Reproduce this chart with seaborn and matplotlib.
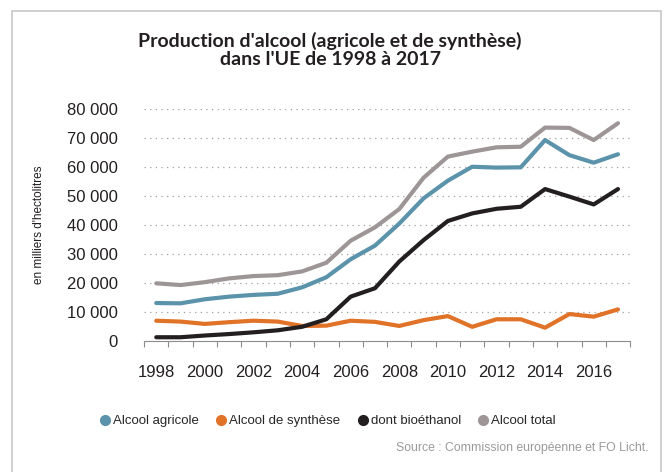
import pandas as pd
import matplotlib.pyplot as plt
import seaborn as sns
from matplotlib.lines import Line2D
from matplotlib.patches import Rectangle
from matplotlib.ticker import FuncFormatter

# Data (milliers d'hectolitres)
years = list(range(1998, 2018))
alcool_agricole = [13100, 13000, 14400, 15300, 15900, 16300, 18500, 22000, 28200, 32900,
                   40500, 49200, 55300, 60100, 59800, 59900, 69300, 64100, 61500, 64400]
alcool_synthese = [7000, 6700, 5900, 6500, 7000, 6700, 5200, 5300, 7000, 6600,
                   5200, 7200, 8600, 4900, 7500, 7500, 4600, 9300, 8400, 10900]
bioethanol = [1300, 1300, 1900, 2400, 3000, 3700, 4900, 7500, 15300, 18200,
              27400, 34800, 41400, 44000, 45600, 46300, 52400, 49800, 47100, 52400]
alcool_total = [19900, 19300, 20300, 21600, 22400, 22700, 24000, 27000, 34600, 39200,
                45500, 56300, 63600, 65300, 66800, 67000, 73600, 73500, 69300, 75100]

series_names = ["Alcool agricole", "Alcool de synthèse", "dont bioéthanol", "Alcool total"]
colors = ["#5b93ab", "#e07328", "#231f20", "#9e9696"]

df = pd.concat([
    pd.DataFrame({"year": years, "value": vals, "serie": name})
    for name, vals in zip(series_names, [alcool_agricole, alcool_synthese, bioethanol, alcool_total])
])

sns.set_style("white")
plt.rcParams['font.family'] = ['Liberation Sans', 'DejaVu Sans']

fig = plt.figure(figsize=(6.64, 4.72), dpi=100)
ax = fig.add_axes([0.217, 0.2775, 0.732, 0.4915])

sns.lineplot(data=df, x="year", y="value", hue="serie", hue_order=series_names,
             palette=colors, linewidth=3, legend=False, ax=ax,
             solid_capstyle="round", solid_joinstyle="round", clip_on=False)

ax.set_xlim(1997.5, 2017.5)
ax.set_ylim(0, 80000)

# y axis
ax.set_yticks(range(0, 80001, 10000))
ax.yaxis.set_major_formatter(FuncFormatter(lambda v, p: f"{int(v):,}".replace(",", " ")))
ax.tick_params(axis="y", length=0, labelsize=12, pad=19, labelcolor="#231f20")
for y in range(10000, 80001, 10000):
    ax.axhline(y, color="#a0a0a0", linewidth=0.9, linestyle=(0, (1, 3.5)), zorder=0)

# x axis: labels every two years, tick marks between categories
ax.set_xticks(years[::2])
ax.set_xticks([y - 0.5 for y in years] + [2017.5], minor=True)
ax.tick_params(axis="x", which="major", length=0, labelsize=12, pad=17, labelcolor="#231f20")
ax.tick_params(axis="x", which="minor", length=4, width=0.8, color="#8c8c8c", direction="out", bottom=True)

for side in ["top", "right", "left"]:
    ax.spines[side].set_visible(False)
ax.spines["bottom"].set_color("#8c8c8c")
ax.spines["bottom"].set_linewidth(0.8)

ax.set_xlabel("")
ax.set_ylabel("en milliers d'hectolitres", fontsize=8.5, color="#231f20")
ax.yaxis.set_label_coords(-0.204, 0.5)

# title
fig.text(0.497, 0.894, "Production d'alcool (agricole et de synthèse)\ndans l'UE de 1998 à 2017",
         ha="center", va="center", fontsize=14, fontweight="bold", color="#231f20",
         family=["Lato", "DejaVu Sans"], linespacing=1.05)

# legend
handles = [Line2D([], [], marker="o", linestyle="", markersize=7, color=c) for c in colors]
fig.legend(handles, series_names, loc="center", bbox_to_anchor=(0.492, 0.108), ncol=4,
           frameon=False, fontsize=9.5, handletextpad=0.05, columnspacing=1.15, handlelength=1.1)

# source
fig.text(0.976, 0.051, "Source : Commission européenne et FO Licht.", ha="right", va="center",
         fontsize=8.8, color="#9a9a9a")

# frame around the chart
fig.patches.append(Rectangle((12 / 664, -0.05), 649 / 664, 1.05 - 11 / 472, transform=fig.transFigure,
                             fill=False, edgecolor="#c8c8c8", linewidth=1.2))

fig.savefig("out.png", dpi=100)
